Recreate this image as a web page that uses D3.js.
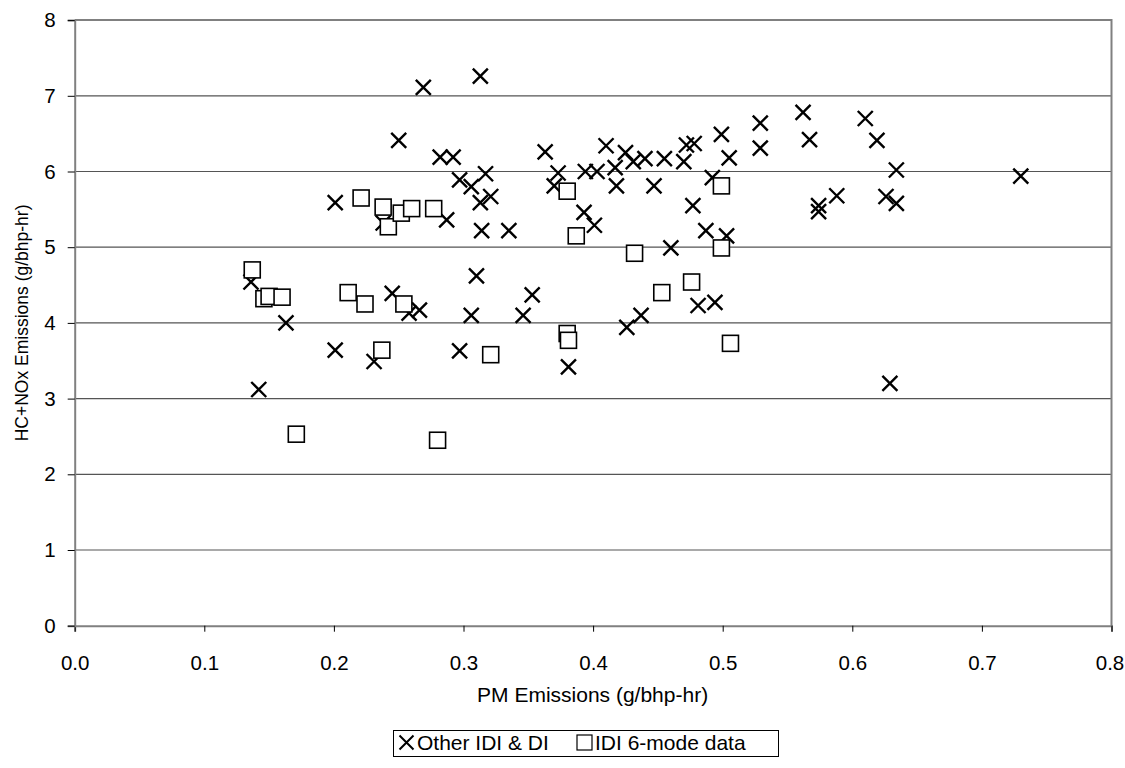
<!DOCTYPE html>
<html>
<head>
<meta charset="utf-8">
<script src="https://cdn.jsdelivr.net/npm/d3@7"></script>
<style>
  html, body { margin: 0; padding: 0; background: #fff; }
  text { font-family: "Liberation Sans", Arial, sans-serif; fill: #000; }
</style>
</head>
<body>
<svg id="chart" width="1125" height="768"></svg>
<script>
// ---- data ----
const otherPM = [0.136,0.142,0.163,0.201,0.201,0.231,0.238,0.245,0.250,0.258,0.266,0.269,0.282,0.287,0.292,0.297,0.297,0.306,0.306,0.310,0.313,0.313,0.314,0.317,0.321,0.335,0.346,0.353,0.363,0.373,0.370,0.381,0.394,0.393,0.401,0.403,0.410,0.417,0.418,0.425,0.426,0.431,0.437,0.440,0.447,0.455,0.460,0.470,0.472,0.478,0.477,0.481,0.487,0.492,0.494,0.499,0.503,0.505,0.529,0.529,0.562,0.567,0.574,0.574,0.588,0.610,0.619,0.626,0.629,0.634,0.634,0.730];
const otherHC = [4.54,3.12,4.00,5.59,3.64,3.49,5.32,4.39,6.41,4.13,4.17,7.11,6.19,5.36,6.19,5.89,3.63,5.80,4.10,4.62,7.26,5.59,5.22,5.97,5.67,5.22,4.10,4.37,6.26,5.98,5.81,3.42,6.00,5.46,5.29,6.00,6.34,6.05,5.81,6.25,3.94,6.13,4.10,6.17,5.81,6.17,4.99,6.13,6.35,6.37,5.55,4.23,5.22,5.92,4.27,6.49,5.15,6.18,6.64,6.31,6.78,6.42,5.55,5.47,5.68,6.70,6.41,5.67,3.20,6.02,5.58,5.94];
const idiPM = [0.137,0.146,0.150,0.160,0.171,0.211,0.221,0.224,0.237,0.238,0.242,0.252,0.254,0.260,0.277,0.280,0.321,0.380,0.380,0.381,0.387,0.432,0.453,0.476,0.499,0.499,0.506];
const idiHC = [4.70,4.32,4.35,4.34,2.53,4.40,5.65,4.25,3.64,5.53,5.27,5.45,4.25,5.51,5.51,2.45,3.58,5.74,3.86,3.77,5.15,4.92,4.40,4.54,5.81,4.99,3.73];
const xTicks = [0,0.1,0.2,0.3,0.4,0.5,0.6,0.7,0.8];
const yTicks = [0,1,2,3,4,5,6,7,8];
const seriesNames = ["Other IDI & DI", "IDI 6-mode data"];
const xTitle = "PM Emissions (g/bhp-hr)";
const yTitle = "HC+NOx Emissions (g/bhp-hr)";

// ---- layout ----
const L = 74.7, R = 1111.5, T = 20.1, B = 625.7;
const FS = 21, TFS = 20.5;
const svg = d3.select("#chart");
const x = d3.scaleLinear().domain([0, 0.8]).range([L, R]);
const y = d3.scaleLinear().domain([0, 8]).range([B, T]);

// gridlines
svg.append("g").selectAll("line").data(yTicks.filter(d => d > 0 && d < 8)).join("line")
  .attr("x1", L).attr("x2", R).attr("y1", d => y(d)).attr("y2", d => y(d))
  .attr("stroke", "#555").attr("stroke-width", 1.2);

// plot border (top, right)
svg.append("path")
  .attr("d", `M${L},${T}H${R}V${B}`)
  .attr("fill", "none").attr("stroke", "#808080").attr("stroke-width", 2);

// axes
const xAxis = d3.axisBottom(x).tickValues(xTicks).tickFormat(d3.format(".1f")).tickSizeOuter(0).tickSize(6).tickPadding(24);
const gx = svg.append("g").attr("transform", `translate(0,${B})`).call(xAxis);
const yAxis = d3.axisLeft(y).tickValues(yTicks).tickFormat(d3.format("d")).tickSizeOuter(0).tickSize(7).tickPadding(12);
const gy = svg.append("g").attr("transform", `translate(${L},0)`).call(yAxis);
[gx, gy].forEach(g => {
  g.select(".domain").attr("stroke", "#808080").attr("stroke-width", 2);
  g.selectAll(".tick line").attr("stroke", "#000").attr("stroke-width", 1);
  g.selectAll(".tick text").attr("font-size", TFS).attr("font-family", '"Liberation Sans", Arial, sans-serif').attr("fill", "#000");
});
// keep last x label inside the canvas
gx.selectAll(".tick text").filter(d => d === 0.8).attr("dx", -2);

// axis titles
svg.append("text").attr("x", (L + R) / 2 - 0.5).attr("y", 701.5)
  .attr("text-anchor", "middle").attr("font-size", FS).text(xTitle);
svg.append("text").attr("transform", `translate(28,${(T + B) / 2}) rotate(-90)`)
  .attr("text-anchor", "middle").attr("font-size", 17.5).text(yTitle);

// markers
const h = 7.5;
const xPath = (cx, cy) => `M${cx - h},${cy - h}L${cx + h},${cy + h}M${cx - h},${cy + h}L${cx + h},${cy - h}`;
const otherData = otherPM.map((v, i) => ({ pm: v, hc: otherHC[i] }));
const idiData = idiPM.map((v, i) => ({ pm: v, hc: idiHC[i] }));

svg.append("g").selectAll("path").data(otherData).join("path")
  .attr("d", d => xPath(x(d.pm), y(d.hc)))
  .attr("stroke", "#000").attr("stroke-width", 2.4).attr("fill", "none");

const s = 16;
svg.append("g").selectAll("rect").data(idiData).join("rect")
  .attr("x", d => x(d.pm) - s / 2).attr("y", d => y(d.hc) - s / 2)
  .attr("width", s).attr("height", s)
  .attr("fill", "#fff").attr("stroke", "#000").attr("stroke-width", 1.6);

// legend
const lg = svg.append("g");
lg.append("rect").attr("x", 393.5).attr("y", 730.5).attr("width", 385).attr("height", 26)
  .attr("fill", "#fff").attr("stroke", "#000").attr("stroke-width", 1);
const lx1 = 406.5, ly = 742.5;
const sm = 7;
lg.append("path").attr("d", `M${lx1 - sm},${ly - sm}L${lx1 + sm},${ly + sm}M${lx1 - sm},${ly + sm}L${lx1 + sm},${ly - sm}`)
  .attr("stroke", "#000").attr("stroke-width", 2);
lg.append("text").attr("x", 417).attr("y", ly + 7.5).attr("font-size", FS).text(seriesNames[0]);
lg.append("rect").attr("x", 577).attr("y", ly - 7.5).attr("width", 15).attr("height", 15)
  .attr("fill", "#fff").attr("stroke", "#000").attr("stroke-width", 1.2);
lg.append("text").attr("x", 595).attr("y", ly + 7.5).attr("font-size", FS).text(seriesNames[1]);
</script>
</body>
</html>
